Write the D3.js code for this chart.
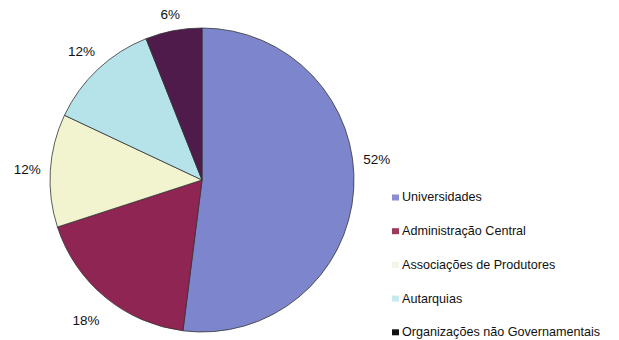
<!DOCTYPE html>
<html><head><meta charset="utf-8">
<script src="https://cdn.jsdelivr.net/npm/d3@7"></script>
<style>body{margin:0;background:#fff}svg{display:block}text{font-family:"Liberation Sans",Arial,sans-serif;fill:#111}</style>
</head><body>
<svg id="c" width="619" height="340"></svg>
<script>
const categories = ["Universidades","Administração Central","Associações de Produtores","Autarquias","Organizações  não Governamentais"];
const values = [52, 18, 12, 12, 6];
const labels = ["52%","18%","12%","12%","6%"];
const colors = ["#7d86cc","#8f2552","#f2f4cf","#b6e3ea","#4f1b4a"];
const legendColors = ["#8a8ed0","#9b3a5c","#f4f5e8","#c8e9ee","#111111"];

const svg = d3.select("#c");
const cx = 202, cy = 180, r = 152;
const g = svg.append("g").attr("transform", `translate(${cx},${cy})`);
const pie = d3.pie().sort(null).value(d => d)(values);
const arc = d3.arc().innerRadius(0).outerRadius(r);
g.selectAll("path").data(pie).join("path")
  .attr("d", arc).attr("fill", (d,i) => colors[i])
  .attr("stroke", "#333").attr("stroke-width", 0.8);

const lr = [176, 182, 175, 176, 169];
g.selectAll("text.lbl").data(pie).join("text").attr("class","lbl")
  .attr("text-anchor","middle").attr("dy","0.35em")
  .style("font-size","13.5px")
  .attr("x", (d,i) => { let a = (d.startAngle+d.endAngle)/2; if (i===0) a -= 0.18; return Math.sin(a)*lr[i]; })
  .attr("y", (d,i) => { let a = (d.startAngle+d.endAngle)/2; if (i===0) a -= 0.18; return -Math.cos(a)*lr[i]; })
  .text((d,i) => labels[i]);

const leg = svg.append("g").attr("transform","translate(392,197)");
const row = leg.selectAll("g").data(categories).join("g")
  .attr("transform", (d,i) => `translate(0,${i*33.7})`);
row.append("rect").attr("x",0).attr("y",-2.5).attr("width",7).attr("height",6)
  .attr("fill", (d,i) => legendColors[i]);
row.append("text").attr("x",10).attr("y",0).attr("dy","0.35em")
  .style("font-size","12.6px").text(d => d);
</script>
</body></html>
